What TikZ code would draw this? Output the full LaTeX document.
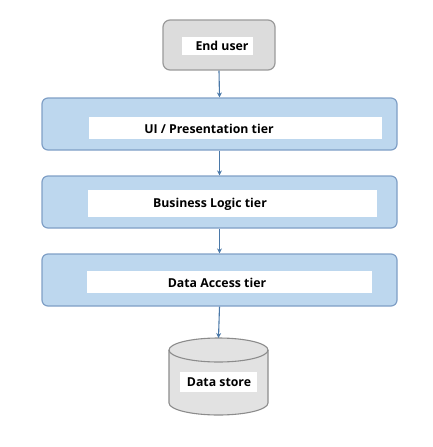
\documentclass[tikz,border=0pt]{standalone}
\usepackage{fontspec}
\setmainfont{Open Sans}
\usetikzlibrary{arrows.meta}
\definecolor{tierfill}{HTML}{BDD7EE}
\definecolor{tierdraw}{HTML}{7F9FC6}
\definecolor{userfill}{HTML}{DCDCDC}
\definecolor{userdraw}{HTML}{9A9A9A}
\definecolor{arrowc}{HTML}{4A78A8}
\definecolor{cylfill}{HTML}{E2E2E2}
\definecolor{cyldraw}{HTML}{8C8C8C}
\tikzset{
  tierbox/.style={draw=tierdraw, fill=tierfill, line width=1.2pt, rounded corners=6pt, minimum width=355pt, minimum height=52pt, inner sep=0pt},
  whitebar/.style={fill=white, inner sep=0pt},
  label/.style={font=\bfseries\fontsize{12.3}{14}\selectfont, inner sep=0pt},
  conn/.style={draw=arrowc, line width=1.1pt, -{Stealth[length=5pt,width=5pt]}},
}
\begin{document}
\begin{tikzpicture}[x=1pt,y=-1pt]
\useasboundingbox (0,0) rectangle (432,447);
% End user
\node[draw=userdraw, fill=userfill, line width=1.2pt, rounded corners=7pt, minimum width=112pt, minimum height=50pt, inner sep=0pt] (eu) at (219,45) {};
\node[whitebar, minimum width=71pt, minimum height=18pt] (euw) at (217.5,46) {};
\node[label] (eut) at (222,45.5) {End user};
% Tiers
\node[tierbox] (ui) at (219.5,124) {};
\node[whitebar, minimum width=293pt, minimum height=22pt] (uiw) at (235.5,128) {};
\node[label] (uit) at (209,129) {UI / Presentation tier};
\node[tierbox] (bl) at (219.5,202) {};
\node[whitebar, minimum width=289pt, minimum height=27pt] (blw) at (232.5,203.5) {};
\node[label] (blt) at (210,204) {Business Logic tier};
\node[tierbox] (da) at (219.5,280) {};
\node[whitebar, minimum width=285pt, minimum height=22pt] (daw) at (229.5,282) {};
\node[label] (dat) at (217,283) {Data Access tier};
% Cylinder
\draw[draw=cyldraw, fill=cylfill, line width=1.1pt]
  (169,350) -- (169,403) arc[start angle=180, end angle=0, x radius=49.5, y radius=12] -- (268,350)
  arc[start angle=0, end angle=-180, x radius=49.5, y radius=12] -- cycle;
\draw[draw=cyldraw, line width=1.1pt] (169,350) arc[start angle=180, end angle=0, x radius=49.5, y radius=12];
\coordinate (dstop) at (218.5,338);
\node[whitebar, minimum width=77pt, minimum height=20pt] (dsw) at (218.5,382) {};
\node[label] (dst) at (219,382) {Data store};
% Connectors
\draw[conn] (eu.south) -- (ui.north);
\draw[conn] (ui.south) -- (bl.north);
\draw[conn] (bl.south) -- (da.north);
\draw[conn] (da.south) -- (dstop);
\end{tikzpicture}
\end{document}
